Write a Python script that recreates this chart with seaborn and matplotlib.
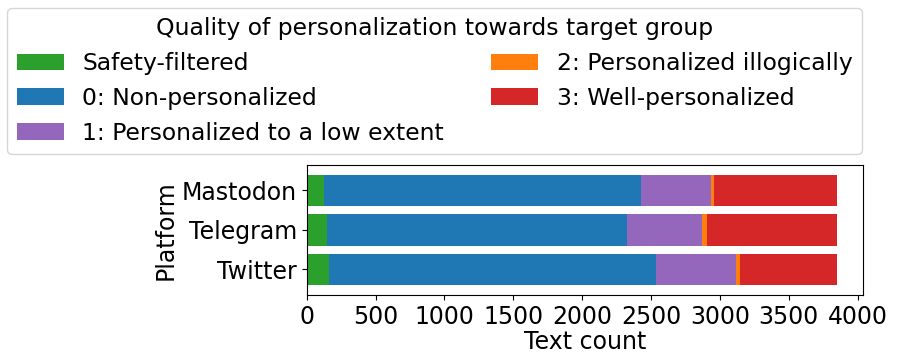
import matplotlib
matplotlib.use("Agg")
import matplotlib.pyplot as plt
import seaborn as sns
import numpy as np
import pandas as pd

platforms = ["Mastodon", "Telegram", "Twitter"]
categories = ["Safety-filtered", "0: Non-personalized", "1: Personalized to a low extent",
              "2: Personalized illogically", "3: Well-personalized"]
safety_filtered = [124, 148, 161]
non_personalized = [2306, 2178, 2377]
low_extent = [503, 544, 575]
illogically = [21, 36, 31]
well_personalized = [892, 940, 702]
colors = ["#2ca02c", "#1f77b4", "#9467bd", "#ff7f0e", "#d62728"]

series = [safety_filtered, non_personalized, low_extent, illogically, well_personalized]
cum = np.cumsum(np.array(series), axis=0)

FS = 17
LFS = 16.9

fig = plt.figure(figsize=(8.97, 3.62), dpi=100)
ax = fig.add_axes([306.7/897, 1-295/362, (863-306.7)/897, (295-164.7)/362])

for i in reversed(range(len(categories))):
    df = pd.DataFrame({"Platform": platforms, "Text count": cum[i]})
    sns.barplot(data=df, x="Text count", y="Platform", orient="h", color=colors[i],
                saturation=1, width=0.8, ax=ax, label=categories[i])

h, l = ax.get_legend_handles_labels()
lookup = dict(zip(l, h))
ordered = [lookup[c] for c in categories]
if ax.get_legend() is not None:
    ax.get_legend().remove()

ax.set_ylim(2.65, -0.65)
ax.set_xlim(0, 3846 * 1.05)
ax.set_xticks(np.arange(0, 4001, 500))
ax.tick_params(labelsize=FS)
ax.set_xlabel("Text count", fontsize=FS, labelpad=1)
ax.set_ylabel("Platform", fontsize=FS, labelpad=3)

fig.legend(ordered, categories, ncol=2, fontsize=LFS, title="Quality of personalization towards target group",
           title_fontsize=LFS, loc="upper right", bbox_to_anchor=(862/897, 1-8/362),
           bbox_transform=fig.transFigure, borderaxespad=0)

fig.savefig("out.png", dpi=100)
